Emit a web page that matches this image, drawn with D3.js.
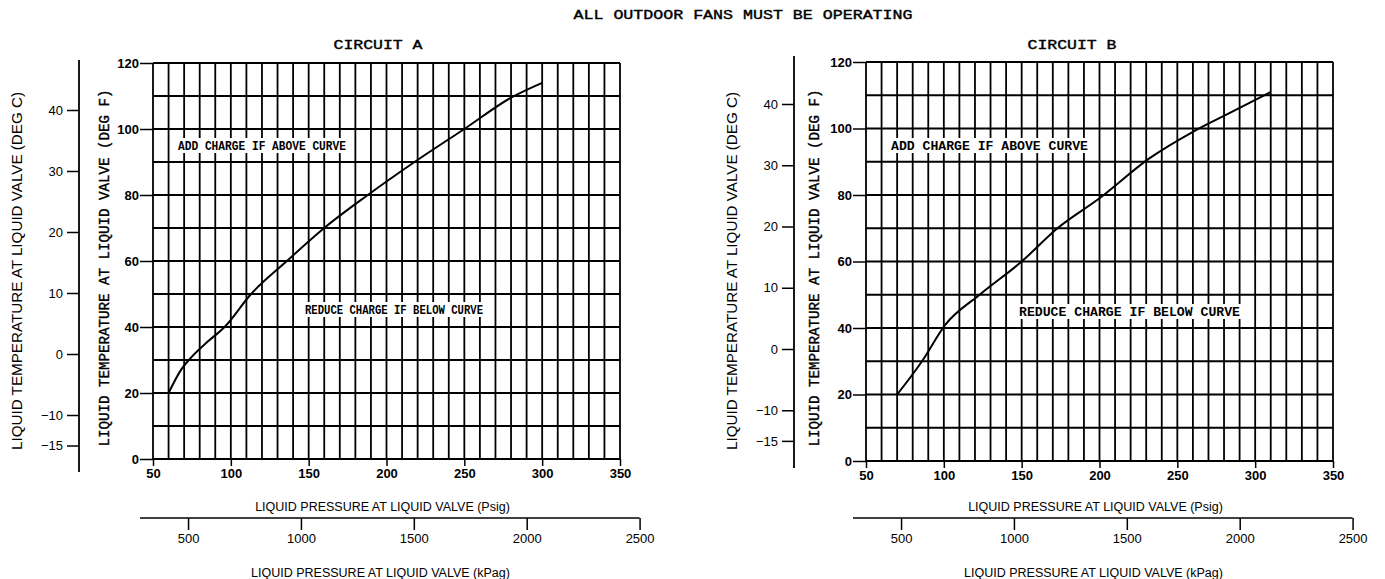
<!DOCTYPE html>
<html>
<head>
<meta charset="utf-8">
<script src="https://cdn.jsdelivr.net/npm/d3@7"></script>
<style>
  body { margin: 0; background: #fff; }
  svg { display: block; }
  .sans { font-family: "Liberation Sans", Arial, sans-serif; }
  .mono { font-family: "Liberation Mono", "DejaVu Sans Mono", monospace; }
</style>
</head>
<body>
<svg width="1385" height="579"></svg>
<script>
// Tick values
var psigTicks = [50, 100, 150, 200, 250, 300, 350];
var degFTicks = [0, 20, 40, 60, 80, 100, 120];
var degCTicks = [40, 30, 20, 10, 0, -10, -15];
var kpaTicks = [500, 1000, 1500, 2000, 2500];

// Charging curves (psig, deg F)
var curveAPsig = [60, 68, 75, 85, 96, 113, 136, 160, 188, 218, 250, 280, 300];
var curveATemp = [20, 27, 31, 35.5, 40, 50, 60, 70, 80, 90, 100, 109.5, 114];
var curveBPsig = [70, 86, 101, 123, 150, 173, 200, 232, 260, 285, 310];
var curveBTemp = [20, 30, 41, 50, 60, 70, 79, 91, 99, 105, 111];

var svg = d3.select("svg");

svg.append("text")
    .attr("class", "mono")
    .attr("x", 743).attr("y", 19)
    .attr("text-anchor", "middle")
    .attr("font-size", 13)
    .attr("stroke", "#000").attr("stroke-width", 0.4)
    .attr("textLength", 339).attr("lengthAdjust", "spacingAndGlyphs")
    .text("ALL OUTDOOR FANS MUST BE OPERATING");

// panel layout
var panels = [
  { name: "CIRCUIT A", psig: curveAPsig, temp: curveATemp,
    x0: 153, x1: 620, yTop: 63, yBot: 459,
    cX: 79, c0: 354, c40: 110, cTop: 60, cBot: 472, cTitleX: 17, fTitleX: 104, titleX: 378,
    add: { x: 178, y: 150, w: 168 }, reduce: { x: 305, y: 314, w: 178 } },
  { name: "CIRCUIT B", psig: curveBPsig, temp: curveBTemp,
    x0: 866, x1: 1333, yTop: 62, yBot: 461,
    cX: 794, c0: 349, c40: 104, cTop: 56, cBot: 468, cTitleX: 732, fTitleX: 814, titleX: 1072,
    add: { x: 891, y: 150, w: 197 }, reduce: { x: 1019, y: 316, w: 221 } }
];

panels.forEach(drawPanel);

function drawPanel(p) {
  var x = d3.scaleLinear().domain([50, 350]).range([p.x0, p.x1]);
  var y = d3.scaleLinear().domain([0, 120]).range([p.yBot, p.yTop]);
  var yC = d3.scaleLinear().domain([0, 40]).range([p.c0, p.c40]);
  var xK = d3.scaleLinear().domain([50 * 6.895, 350 * 6.895]).range([p.x0, p.x1]);

  var g = svg.append("g");

  // grid
  var grid = g.append("g").attr("stroke", "#000").attr("stroke-width", 1.8);
  grid.selectAll("line.v")
    .data(d3.range(50, 351, 10))
    .enter().append("line")
      .attr("x1", function(d) { return x(d); })
      .attr("x2", function(d) { return x(d); })
      .attr("y1", y(0)).attr("y2", y(120));
  grid.selectAll("line.h")
    .data(d3.range(0, 121, 10))
    .enter().append("line")
      .attr("x1", x(50)).attr("x2", x(350))
      .attr("y1", function(d) { return y(d); })
      .attr("y2", function(d) { return y(d); });

  // deg F axis
  var fAxis = g.append("g")
      .attr("transform", "translate(" + x(50) + ",0)")
      .call(d3.axisLeft(y).tickValues(degFTicks).tickSize(13).tickPadding(1));
  fAxis.select(".domain").remove();
  fAxis.selectAll(".tick line").attr("stroke-width", 1.5);
  fAxis.selectAll("text")
      .attr("class", "sans").attr("font-size", 13).attr("font-weight", "bold")
      .attr("fill", "#000");

  // psig axis
  var pAxis = g.append("g")
      .attr("transform", "translate(0," + y(0) + ")")
      .call(d3.axisBottom(x).tickValues(psigTicks).tickSize(7).tickPadding(3));
  pAxis.select(".domain").remove();
  pAxis.selectAll(".tick line").attr("stroke-width", 1.5);
  pAxis.selectAll("text")
      .attr("class", "sans").attr("font-size", 13).attr("font-weight", "bold")
      .attr("fill", "#000");

  // deg C axis
  var cAxis = g.append("g")
      .attr("transform", "translate(" + p.cX + ",0)")
      .call(d3.axisLeft(yC).tickValues(degCTicks).tickSize(12).tickPadding(4));
  cAxis.select(".domain").remove();
  cAxis.selectAll("text")
      .attr("class", "sans").attr("font-size", 13).attr("fill", "#000");
  cAxis.selectAll(".tick line").attr("stroke-width", 1.5);
  g.append("line")
      .attr("x1", p.cX).attr("x2", p.cX)
      .attr("y1", p.cTop).attr("y2", p.cBot)
      .attr("stroke", "#000").attr("stroke-width", 1.8);

  // kPa axis
  var kY = 518;
  var kAxis = g.append("g")
      .attr("transform", "translate(0," + kY + ")")
      .call(d3.axisBottom(xK).tickValues(kpaTicks).tickFormat(d3.format("d"))
        .tickSize(12).tickPadding(4));
  kAxis.select(".domain").remove();
  kAxis.selectAll(".tick line").attr("stroke-width", 1.5);
  kAxis.selectAll("text")
      .attr("class", "sans").attr("font-size", 13).attr("fill", "#000");
  g.append("line")
      .attr("x1", x(50) - 13).attr("x2", xK(2500))
      .attr("y1", kY).attr("y2", kY)
      .attr("stroke", "#000").attr("stroke-width", 1.5);

  // axis titles
  g.append("text").attr("class", "sans")
      .attr("x", (p.x0 + p.x1) / 2 - 4).attr("y", 511)
      .attr("text-anchor", "middle").attr("font-size", 12.5)
      .text("LIQUID PRESSURE AT LIQUID VALVE (Psig)");
  g.append("text").attr("class", "sans")
      .attr("x", (p.x0 + p.x1) / 2 - 6).attr("y", 577)
      .attr("text-anchor", "middle").attr("font-size", 12.5)
      .text("LIQUID PRESSURE AT LIQUID VALVE (kPag)");

  g.append("text").attr("class", "sans")
      .attr("transform", "translate(" + (p.cTitleX + 5) + ",271) rotate(-90)")
      .attr("text-anchor", "middle").attr("font-size", 14)
      .attr("textLength", 358).attr("lengthAdjust", "spacingAndGlyphs")
      .text("LIQUID TEMPERATURE AT LIQUID VALVE (DEG C)");
  g.append("text").attr("class", "mono")
      .attr("transform", "translate(" + (p.fTitleX + 5) + ",268) rotate(-90)")
      .attr("text-anchor", "middle").attr("font-size", 14)
      .attr("stroke", "#000").attr("stroke-width", 0.4)
      .attr("textLength", 357).attr("lengthAdjust", "spacingAndGlyphs")
      .text("LIQUID TEMPERATURE AT LIQUID VALVE (DEG F)");

  // circuit title
  g.append("text").attr("class", "mono")
      .attr("x", p.titleX).attr("y", 49)
      .attr("text-anchor", "middle").attr("font-size", 13)
      .attr("stroke", "#000").attr("stroke-width", 0.4)
      .attr("textLength", 89).attr("lengthAdjust", "spacingAndGlyphs")
      .text(p.name);

  // curve
  var pts = p.psig.map(function(v, i) { return [v, p.temp[i]]; });
  g.append("path")
      .datum(pts)
      .attr("fill", "none").attr("stroke", "#000").attr("stroke-width", 2)
      .attr("d", d3.line()
          .x(function(d) { return x(d[0]); })
          .y(function(d) { return y(d[1]); })
          .curve(d3.curveMonotoneX));

  // in-chart notes with white backing
  [{ t: "ADD CHARGE IF ABOVE CURVE", o: p.add }, { t: "REDUCE CHARGE IF BELOW CURVE", o: p.reduce }]
    .forEach(function(n) {
      g.append("rect")
          .attr("x", n.o.x - 3).attr("y", n.o.y - 12)
          .attr("width", n.o.w + 6).attr("height", 15)
          .attr("fill", "#fff");
      g.append("text").attr("class", "mono")
          .attr("x", n.o.x).attr("y", n.o.y)
          .attr("font-size", 12).attr("font-weight", "bold")
          .attr("textLength", n.o.w).attr("lengthAdjust", "spacingAndGlyphs")
          .text(n.t);
    });
}
</script>
</body>
</html>
